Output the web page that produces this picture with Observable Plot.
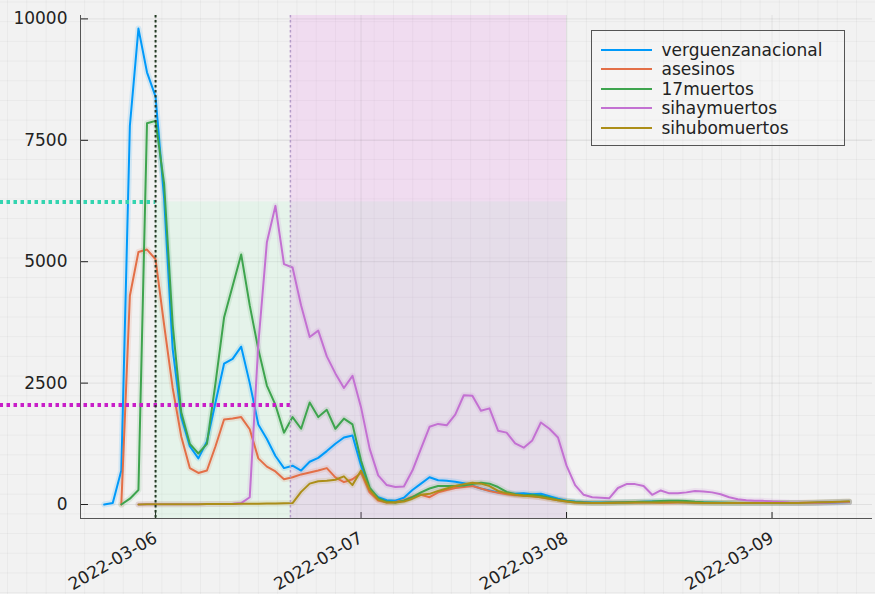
<!DOCTYPE html>
<html>
<head>
<meta charset="utf-8">
<script src="https://cdn.jsdelivr.net/npm/d3@7"></script>
<script src="https://cdn.jsdelivr.net/npm/@observablehq/plot@0.6"></script>
<style>
  body { margin: 0; }
  #wrap {
    position: relative; width: 875px; height: 594px; overflow: hidden;
    background-color: #f2f2f2;
    background-image:
      linear-gradient(to right, rgba(0,0,0,0.035) 1px, transparent 1px),
      linear-gradient(to bottom, rgba(0,0,0,0.035) 1px, transparent 1px);
    background-size: 19.3px 19.7px;
    background-position: 7px 1.5px;
    font-family: "DejaVu Sans", sans-serif;
  }
  #wrap svg { position: absolute; left: 0; top: 0; }
  #legend {
    position: absolute; left: 591px; top: 30px; width: 254px; height: 116px;
    box-sizing: border-box; border: 1.5px solid #555;
    background: rgba(250,250,250,0.3); padding-top: 8.75px;
  }
  .row { display: flex; align-items: center; height: 19.5px; font-size: 17px; color: #222; white-space: nowrap; }
  .sw { width: 51px; height: 2px; margin-left: 9px; margin-right: 9.5px; flex: none; }
</style>
</head>
<body>
<div id="wrap"><div id="legend"></div></div>
<script>
// ---- data ----
const seriesNames = ["verguenzanacional", "asesinos", "17muertos", "sihaymuertos", "sihubomuertos"];
const seriesColors = ["#009AFA", "#E36F47", "#3EA44E", "#C371D2", "#AC8E18"];
const firstHour = "2022-03-05T18:00Z"; // hourly samples

const verguenzanacional = [0, 30, 700, 7800, 9800, 8900, 8400, 6300, 3200, 1800, 1200, 950, 1300, 2100, 2900, 3000, 3250, 2500, 1650, 1350, 1000, 750, 800, 700,
  880, 960, 1100, 1250, 1380, 1420, 800, 300, 150, 90, 80, 140, 300, 430, 560, 500, 490, 470, 440, 390, 330, 290, 250, 230,
  220, 230, 210, 220, 170, 120, 80, 60, 50, 40, 40, 40, 45, 50, 50, 55, 60, 60, 55, 50, 45, 40, 40, 35,
  35, 30, 30, 30, 30, 30, 30, 30, 30, 30, 30, 30, 35, 40, 45, 50];
const asesinos = [null, null, 0, 4300, 5200, 5250, 5050, 3700, 2400, 1400, 750, 650, 700, 1200, 1750, 1770, 1800, 1550, 950, 780, 680, 520, 560, 620,
  660, 700, 750, 560, 460, 520, 650, 250, 80, 40, 50, 90, 160, 200, 150, 250, 300, 340, 360, 380, 330, 280, 240, 210,
  190, 180, 170, 150, 120, 90, 60, 40, 35, 30, 30, 35, 40, 40, 45, 40, 40, 35, 35, 40, 40, 35, 30, 30,
  30, 30, 30, 30, 30, 30, 30, 30, 30, 30, 35, 35, 40, 45, 50, 55];
const muertos17 = [null, null, 0, 120, 300, 7850, 7900, 6600, 3700, 1900, 1250, 1050, 1250, 2500, 3850, 4500, 5150, 4100, 3200, 2450, 2050, 1480, 1800, 1560,
  2100, 1800, 1950, 1560, 1770, 1650, 900, 350, 130, 60, 40, 80, 150, 250, 330, 380, 380, 380, 390, 420, 450, 430, 360, 260,
  210, 190, 200, 180, 140, 100, 70, 50, 40, 35, 35, 40, 40, 45, 50, 55, 60, 70, 80, 80, 70, 55, 45, 40,
  35, 35, 30, 30, 30, 30, 30, 30, 30, 30, 30, 35, 40, 45, 50, 55];
const sihaymuertos = [null, null, null, null, 0, 5, 5, 5, 5, 5, 5, 5, 10, 10, 10, 15, 30, 150, 3300, 5400, 6150, 4950, 4880, 4100,
  3450, 3580, 3050, 2700, 2400, 2650, 2000, 1150, 600, 400, 360, 370, 700, 1150, 1600, 1660, 1630, 1850, 2250, 2240, 1930, 1980, 1520, 1480,
  1260, 1170, 1320, 1690, 1560, 1380, 800, 400, 200, 150, 140, 130, 340, 420, 420, 380, 200, 290, 230, 230, 250, 280, 270, 250,
  210, 150, 110, 90, 80, 75, 60, 50, 40, 35, 30, 30, 35, 40, 45, 50];
const sihubomuertos = [null, null, null, null, 0, 5, 5, 5, 5, 5, 5, 5, 10, 10, 10, 10, 15, 15, 15, 20, 20, 25, 30, 260,
  430, 480, 490, 510, 580, 400, 700, 300, 100, 40, 40, 60, 120, 200, 220, 280, 330, 380, 420, 450, 430, 380, 280, 230,
  200, 180, 170, 150, 120, 90, 60, 40, 35, 30, 30, 30, 35, 35, 40, 40, 40, 40, 45, 45, 40, 35, 30, 30,
  30, 30, 30, 30, 30, 30, 30, 30, 30, 30, 35, 40, 45, 50, 55, 60];
const seriesValues = [verguenzanacional, asesinos, muertos17, sihaymuertos, sihubomuertos];

const xTickLabels = ["2022-03-06", "2022-03-07", "2022-03-08", "2022-03-09"];
const yTickValues = [0, 2500, 5000, 7500, 10000];

const thresholdValues = [6230, 2050];                         // horizontal reference levels
const eventTimes = ["2022-03-06T00:00Z", "2022-03-06T15:45Z"];  // vertical reference times
const periodEnd = "2022-03-08T00:00Z";
const referenceStart = "2022-03-05T05:50Z";                   // left end of the horizontal reference lines

// ---- derived table ----
const t0 = Date.parse(firstHour);
const rows = [];
seriesValues.forEach((vals, k) => vals.forEach((v, i) => {
  if (v != null) rows.push({series: seriesNames[k], time: new Date(t0 + i * 3600e3), value: v});
}));
const xTicks = xTickLabels.map(s => new Date(s + "T00:00Z"));
const ev = eventTimes.map(s => new Date(s));
const pEnd = new Date(periodEnd);
const refStart = new Date(referenceStart);

const xDomain = [new Date("2022-03-05T15:14Z"), new Date("2022-03-09T11:44Z")];
const yDomain = [-288, 10070];

const chart = Plot.plot({
  width: 875, height: 594,
  marginLeft: 80, marginRight: 3, marginTop: 15, marginBottom: 76,
  style: {background: "transparent", fontFamily: "DejaVu Sans", fontSize: "17px", color: "#222", overflow: "visible"},
  x: {type: "utc", domain: xDomain, ticks: xTicks, tickFormat: d3.utcFormat("%Y-%m-%d"),
      tickRotate: -30, tickSize: -6, tickPadding: 24, label: null},
  y: {domain: yDomain, ticks: yTickValues, tickFormat: d => String(d), tickSize: -8, tickPadding: 21, label: null},
  color: {domain: seriesNames, range: seriesColors},
  marks: [
    Plot.rect([{a: ev[0], b: pEnd, top: thresholdValues[0]}], {x1: d => d.a, x2: d => d.b, y1: yDomain[0], y2: d => d.top, fill: "#64ffa0", fillOpacity: 0.09}),
    Plot.rect([{a: ev[1], b: pEnd}], {x1: d => d.a, x2: d => d.b, y1: yDomain[0], y2: yDomain[1], fill: "#eb78eb", fillOpacity: 0.18}),
    Plot.ruleX(xTicks, {stroke: "#000", strokeOpacity: 0.07}),
    Plot.ruleY(yTickValues, {stroke: "#000", strokeOpacity: 0.07}),
    Plot.ruleX([xDomain[0]], {stroke: "#555"}),
    Plot.ruleY([yDomain[0]], {stroke: "#555"}),
    Plot.line(rows, {x: "time", y: "value", z: "series", stroke: "series", strokeWidth: 6, strokeOpacity: 0.13, strokeLinejoin: "round"}),
    Plot.line(rows, {x: "time", y: "value", z: "series", stroke: "series", strokeWidth: 2, strokeLinejoin: "round"}),
    Plot.ruleY([{y: thresholdValues[0], a: refStart, b: ev[0]}], {y: "y", x1: "a", x2: "b", stroke: "#33d4b0", strokeWidth: 4, strokeDasharray: "3.5,3.5"}),
    Plot.ruleY([{y: thresholdValues[1], a: refStart, b: ev[1]}], {y: "y", x1: "a", x2: "b", stroke: "#c81ec8", strokeWidth: 4, strokeDasharray: "3.5,3.5"}),
    Plot.ruleX([ev[0]], {stroke: "#203820", strokeWidth: 2, strokeDasharray: "2.5,2.5"}),
    Plot.ruleX([ev[1]], {stroke: "#b49cc8", strokeWidth: 1.5, strokeDasharray: "2.5,2.5"})
  ]
});
const wrap = document.getElementById("wrap");
wrap.insertBefore(chart, wrap.firstChild);

// legend
const legend = document.getElementById("legend");
seriesNames.forEach((n, k) => {
  const row = document.createElement("div");
  row.className = "row";
  const sw = document.createElement("span");
  sw.className = "sw";
  sw.style.background = seriesColors[k];
  const tx = document.createElement("span");
  tx.textContent = n;
  row.appendChild(sw); row.appendChild(tx);
  legend.appendChild(row);
});
</script>
</body>
</html>
